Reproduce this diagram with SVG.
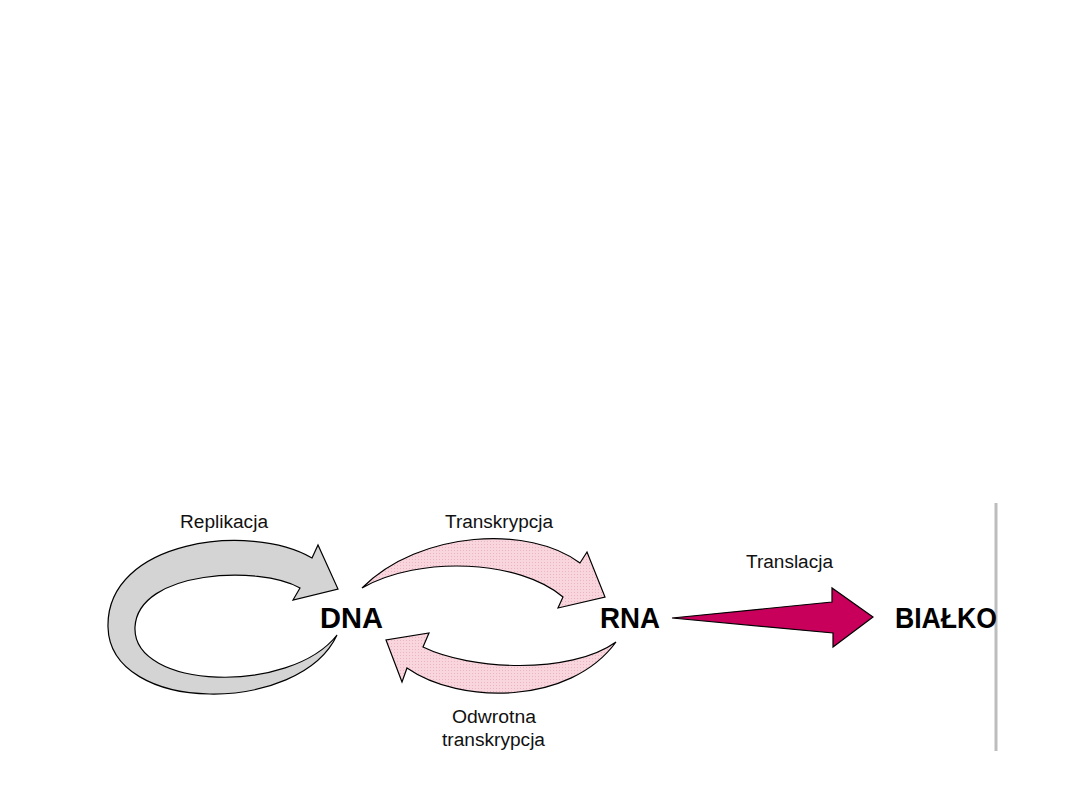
<svg xmlns="http://www.w3.org/2000/svg" width="1080" height="810" viewBox="0 0 1080 810">
<style>
.lbl{font-family:"Liberation Sans",Arial,sans-serif;font-size:18px;fill:#111;text-anchor:start}
.node{font-family:"Liberation Sans",Arial,sans-serif;font-size:29px;font-weight:bold;fill:#000}
.arr{stroke:#000;stroke-width:1.2;stroke-linejoin:miter}
</style>
<defs>
<pattern id="dots" width="3" height="3" patternUnits="userSpaceOnUse">
<rect width="3" height="3" fill="#f9d5de"/>
<rect x="1" y="1" width="1" height="1" fill="#eab4c3"/>
</pattern>
</defs>
<rect width="1080" height="810" fill="#fff"/>
<line x1="996" y1="503" x2="996" y2="751" stroke="#bdbdbd" stroke-width="3"/>
<g id="connectors">
<path id="replikacja" class="arr" fill="#d4d4d4" d="M312,558 L318,545 L338,589 L293,600 L300,588 C260,565 138,570 135,627 C132,690 290,695 337,635 C300,715 110,715 108,627 C106,540 250,522 312,558 Z"/>
<path id="transkrypcja" class="arr" fill="url(#dots)" d="M362,588 C420,530 530,525 580,563 L587,552 L605,597 L558,608 L563,597 C520,560 420,555 362,588 Z"/>
<path id="odwrotna" class="arr" fill="url(#dots)" d="M616,642 C570,705 460,705 407,668 L402,682 L386,640 L429,633 L423,647 C470,670 570,675 616,642 Z"/>
<polygon id="translacja" class="arr" fill="#c8005c" points="672,618 832,602 832,588 873,617 833,647 833,633"/>
<text class="lbl" x="180" y="528" textLength="88" lengthAdjust="spacingAndGlyphs">Replikacja</text>
<text class="lbl" x="445" y="528" textLength="108" lengthAdjust="spacingAndGlyphs">Transkrypcja</text>
<text class="lbl" x="746" y="568" textLength="87" lengthAdjust="spacingAndGlyphs">Translacja</text>
<text class="lbl" x="452" y="723" textLength="84" lengthAdjust="spacingAndGlyphs">Odwrotna</text>
<text class="lbl" x="442" y="746" textLength="103" lengthAdjust="spacingAndGlyphs">transkrypcja</text>
</g>
<g id="dna"><text class="node" x="320" y="628" textLength="63" lengthAdjust="spacingAndGlyphs">DNA</text></g>
<g id="rna"><text class="node" x="600" y="628" textLength="60" lengthAdjust="spacingAndGlyphs">RNA</text></g>
<g id="bialko"><text class="node" x="895" y="628" textLength="102" lengthAdjust="spacingAndGlyphs">BIAŁKO</text></g>
</svg>
